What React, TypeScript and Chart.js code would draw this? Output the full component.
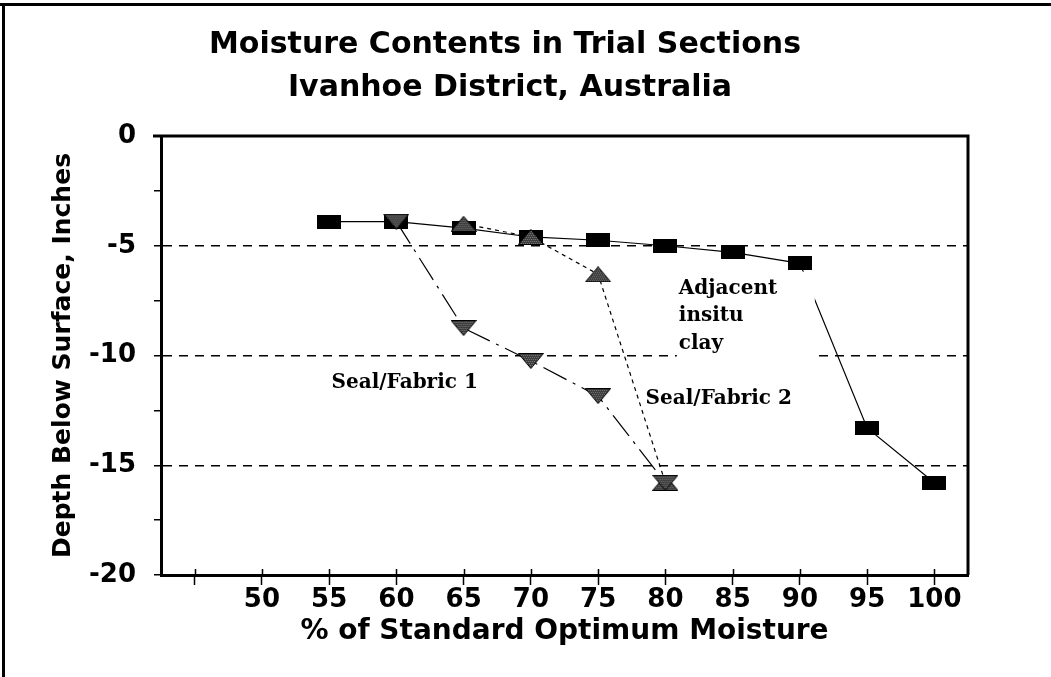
import React, { useEffect, useRef } from 'react';
import { Chart, registerables } from 'chart.js';

Chart.register(...registerables);

// ---------- text ----------
const titleLines = ['Moisture Contents in Trial Sections', 'Ivanhoe District, Australia'];
const xAxisTitle = '% of Standard Optimum Moisture';
const yAxisTitle = 'Depth Below Surface, Inches';

// ---------- ticks ----------
const xTickValues = [45, 50, 55, 60, 65, 70, 75, 80, 85, 90, 95, 100];
const xTickLabelValues = [50, 55, 60, 65, 70, 75, 80, 85, 90, 95, 100];
const yTickValues = [0, -2.5, -5, -7.5, -10, -12.5, -15, -17.5, -20];
const yTickLabelValues = [0, -5, -10, -15, -20];
const yGridValues = [-5, -10, -15];

// ---------- data ----------
const clayMoisture = [55, 60, 65, 70, 75, 80, 85, 90, 95, 100];
const clayDepth = [-3.9, -3.9, -4.2, -4.6, -4.75, -5.0, -5.3, -5.8, -13.3, -15.8];

const fabric1Moisture = [60, 65, 70, 75, 80];
const fabric1Depth = [-3.9, -8.75, -10.25, -11.85, -15.8];

const fabric2Moisture = [65, 70, 75, 80];
const fabric2Depth = [-4.0, -4.6, -6.3, -15.8];

// ---------- in-chart labels (anchored in data coordinates) ----------
const noteLines = [['Adjacent', 'insitu', 'clay'], ['Seal/Fabric 2'], ['Seal/Fabric 1']];
const noteX = [81.0, 78.53, 55.18];
const noteY = [-7.18, -12.23, -11.47];

const SANS = '"DejaVu Sans", "Liberation Sans", Arial, sans-serif';
const SERIF = '"DejaVu Serif", "Liberation Serif", serif';

function makeMarker(kind: 'rect' | 'up' | 'down'): HTMLCanvasElement {
  const c = document.createElement('canvas');
  if (kind === 'rect') {
    c.width = 24;
    c.height = 14;
    const g = c.getContext('2d')!;
    g.fillStyle = '#000';
    g.fillRect(0, 0, 24, 14);
    return c;
  }
  c.width = 26;
  c.height = 16;
  const g = c.getContext('2d')!;
  g.beginPath();
  if (kind === 'up') {
    g.moveTo(13, 0.5);
    g.lineTo(25.5, 15.5);
    g.lineTo(0.5, 15.5);
  } else {
    g.moveTo(0.5, 0.5);
    g.lineTo(25.5, 0.5);
    g.lineTo(13, 15.5);
  }
  g.closePath();
  g.fillStyle = '#3c3c3c';
  g.fill();
  g.save();
  g.clip();
  g.fillStyle = '#7a7a7a';
  for (let i = 0; i < 26; i += 2) {
    for (let j = 0; j < 16; j += 2) {
      g.fillRect(i + (j % 4 === 0 ? 0 : 1), j, 1, 1);
    }
  }
  g.restore();
  g.strokeStyle = '#000';
  g.lineWidth = 1;
  g.stroke();
  return c;
}

const framePlugin = {
  id: 'frame',
  beforeDraw(chart: any) {
    const { ctx, width, height } = chart;
    ctx.save();
    ctx.fillStyle = '#fff';
    ctx.fillRect(0, 0, width, height);
    ctx.strokeStyle = '#000';
    ctx.lineWidth = 3;
    ctx.beginPath();
    ctx.moveTo(0, 4.5);
    ctx.lineTo(width, 4.5);
    ctx.moveTo(3.5, 3);
    ctx.lineTo(3.5, height);
    ctx.stroke();
    ctx.restore();
  },
  afterDraw(chart: any) {
    const { ctx, chartArea } = chart;
    const xs = chart.scales.x;
    ctx.save();
    // top and right sides of the plot box
    ctx.strokeStyle = '#000';
    ctx.lineWidth = 3;
    ctx.beginPath();
    ctx.moveTo(chartArea.left - 8, chartArea.top);
    ctx.lineTo(chartArea.right, chartArea.top);
    ctx.lineTo(chartArea.right, chartArea.bottom);
    ctx.stroke();
    // inner part of x tick marks
    ctx.lineWidth = 1.5;
    ctx.beginPath();
    xTickValues.forEach((v) => {
      const px = Math.round(xs.getPixelForValue(v)) + 0.5;
      ctx.moveTo(px, chartArea.bottom);
      ctx.lineTo(px, chartArea.bottom - 6);
    });
    ctx.stroke();
    // title
    ctx.fillStyle = '#000';
    ctx.font = `bold 30px ${SANS}`;
    ctx.textAlign = 'center';
    ctx.textBaseline = 'alphabetic';
    ctx.fillText(titleLines[0], 505, 53);
    ctx.fillText(titleLines[1], 510, 96);
    ctx.restore();
  },
};

const notesPlugin = {
  id: 'notes',
  afterDatasetsDraw(chart: any) {
    const { ctx } = chart;
    const xs = chart.scales.x;
    const ys = chart.scales.y;
    ctx.save();
    ctx.font = `bold 20px ${SERIF}`;
    ctx.textAlign = 'left';
    ctx.textBaseline = 'alphabetic';
    noteLines.forEach((lines, i) => {
      const px = xs.getPixelForValue(noteX[i]);
      const py = ys.getPixelForValue(noteY[i]);
      if (lines.length > 1) {
        ctx.fillStyle = '#fff';
        ctx.fillRect(px - 2, py - 22, 138, 89);
      }
      ctx.fillStyle = '#000';
      lines.forEach((t, k) => ctx.fillText(t, px, py + k * 27.5));
    });
    ctx.restore();
  },
};

export default function App() {
  const ref = useRef<HTMLCanvasElement>(null);

  useEffect(() => {
    const canvas = ref.current;
    if (!canvas) return;
    const rectMarker = makeMarker('rect');
    const upMarker = makeMarker('up');
    const downMarker = makeMarker('down');

    const chart = new Chart(canvas, {
      type: 'line',
      data: {
        datasets: [
          {
            label: 'Seal/Fabric 1',
            data: fabric1Moisture.map((x, i) => ({ x, y: fabric1Depth[i] })),
            borderColor: '#000',
            borderWidth: 1.2,
            borderDash: [26, 7, 3, 7],
            pointStyle: downMarker as any,
            pointRadius: 6,
            tension: 0,
            fill: false,
            order: 1,
          },
          {
            label: 'Seal/Fabric 2',
            data: fabric2Moisture.map((x, i) => ({ x, y: fabric2Depth[i] })),
            borderColor: '#000',
            borderWidth: 1.2,
            borderDash: [4, 4],
            pointStyle: upMarker as any,
            pointRadius: 6,
            tension: 0,
            fill: false,
            order: 2,
          },
          {
            label: 'Adjacent insitu clay',
            data: clayMoisture.map((x, i) => ({ x, y: clayDepth[i] })),
            borderColor: '#000',
            borderWidth: 1.2,
            pointStyle: rectMarker as any,
            pointRadius: 6,
            tension: 0,
            fill: false,
            order: 3,
          },
        ],
      },
      options: {
        responsive: false,
        animation: false,
        devicePixelRatio: 1,
        layout: { padding: { top: 136, right: 83, bottom: 0, left: 0 } },
        plugins: {
          legend: { display: false },
          title: { display: false },
          tooltip: { enabled: false },
        },
        scales: {
          x: {
            type: 'linear',
            min: 42.5,
            max: 102.5,
            afterBuildTicks: (axis: any) => {
              axis.ticks = xTickValues.map((v) => ({ value: v }));
            },
            afterFit: (axis: any) => {
              axis.height = 102;
            },
            grid: {
              drawOnChartArea: false,
              drawTicks: true,
              tickLength: 10,
              tickColor: '#000',
              tickWidth: 1.5,
            },
            border: { display: true, color: '#000', width: 3 },
            ticks: {
              padding: 0,
              color: '#000',
              autoSkip: false,
              maxRotation: 0,
              font: { family: SANS, weight: 'bold', size: 26 },
              callback: (v: any) => (xTickLabelValues.includes(Number(v)) ? String(v) : ''),
            },
            title: {
              display: true,
              text: xAxisTitle,
              color: '#000',
              font: { family: SANS, weight: 'bold', size: 28 },
              padding: { top: 0, bottom: 28 },
            },
          },
          y: {
            type: 'linear',
            min: -20,
            max: 0,
            afterBuildTicks: (axis: any) => {
              axis.ticks = yTickValues.map((v) => ({ value: v }));
            },
            afterFit: (axis: any) => {
              axis.width = 161;
            },
            grid: {
              drawOnChartArea: true,
              drawTicks: true,
              tickLength: 7,
              tickColor: '#000',
              tickWidth: 1.5,
              lineWidth: 1.5,
              color: (ctx: any) =>
                ctx.tick && yGridValues.includes(ctx.tick.value) ? '#000' : 'rgba(0,0,0,0)',
            },
            border: { display: true, color: '#000', width: 3, dash: [9, 7] },
            ticks: {
              padding: 18,
              color: '#000',
              autoSkip: false,
              font: { family: SANS, weight: 'bold', size: 26 },
              callback: (v: any) => (yTickLabelValues.includes(Number(v)) ? String(v) : ''),
            },
            title: {
              display: true,
              text: yAxisTitle,
              color: '#000',
              font: { family: SANS, weight: 'bold', size: 25 },
              padding: { top: 48, bottom: 0 },
            },
          },
        },
      } as any,
      plugins: [framePlugin, notesPlugin],
    });

    return () => chart.destroy();
  }, []);

  return (
    <div style={{ position: 'fixed', left: 0, top: 0, width: 1051, height: 677, background: '#fff' }}>
      <canvas ref={ref} width={1051} height={677} style={{ display: 'block', width: 1051, height: 677 }} />
    </div>
  );
}
